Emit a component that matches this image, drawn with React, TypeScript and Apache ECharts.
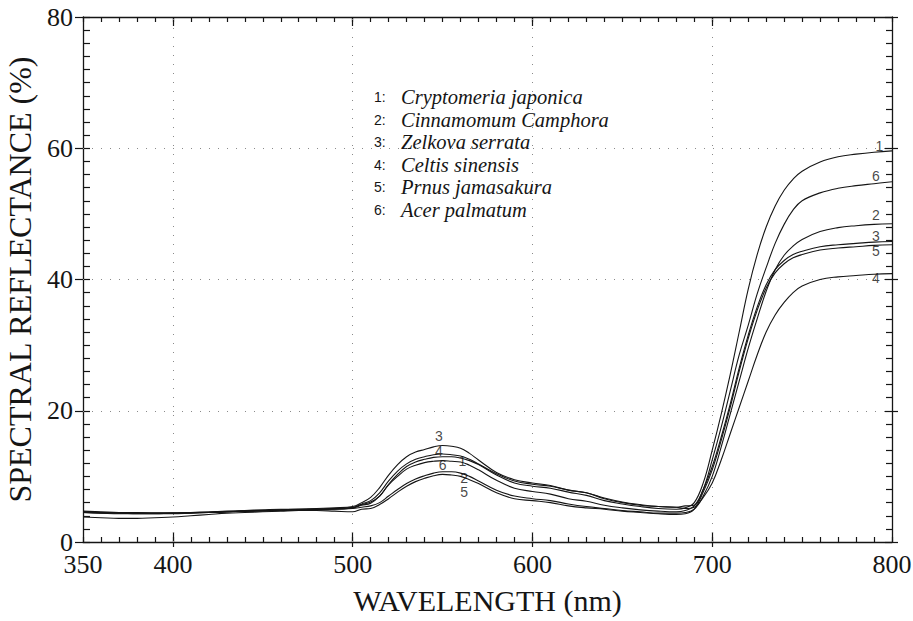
import React, { useEffect, useRef } from "react";
import * as echarts from "echarts";

// Wavelength samples (nm)
const wavelengths = [
  350, 360, 370, 380, 390, 400, 410, 420, 430, 440, 450, 460, 470, 480, 490, 500,
  505, 510, 515, 520, 525, 530, 535, 540, 545, 550, 555, 560, 565, 570,
  580, 590, 600, 610, 620, 630, 640, 650, 660, 670, 680,
  685, 690, 695, 700, 705, 710, 715, 720, 725, 730, 735, 740, 745, 750,
  760, 770, 780, 790, 800,
];

// Spectral reflectance (%) for each species
const cryptomeria = [
  4.6, 4.5, 4.4, 4.4, 4.4, 4.4, 4.5, 4.5, 4.6, 4.7, 4.8, 4.9, 5.0, 5.0, 5.1, 5.3,
  5.7, 6.1, 7.0, 8.8, 10.3, 11.5, 12.2, 12.6, 12.9, 13.0, 13.0, 12.8, 12.4, 11.8,
  10.2, 9.0, 8.5, 8.2, 7.6, 7.1, 6.3, 5.8, 5.4, 5.1, 5.0,
  5.2, 6.0, 9.0, 14.0, 19.5, 25.5, 32.0, 38.5, 43.8, 48.0, 51.2, 53.6, 55.3, 56.5,
  57.9, 58.7, 59.1, 59.4, 59.6,
];
const cinnamomum = [
  4.5, 4.4, 4.3, 4.3, 4.3, 4.4, 4.4, 4.5, 4.6, 4.7, 4.8, 4.8, 4.9, 5.0, 5.0, 5.1,
  5.3, 5.5, 6.0, 7.0, 8.0, 8.9, 9.6, 10.1, 10.5, 10.7, 10.7, 10.5, 10.0, 9.3,
  7.9, 7.0, 6.6, 6.3, 5.8, 5.4, 5.1, 4.8, 4.6, 4.4, 4.4,
  4.5, 5.0, 7.0, 10.0, 14.5, 19.5, 24.5, 29.5, 34.0, 38.2, 41.5, 43.7, 45.1, 46.1,
  47.3, 47.9, 48.2, 48.4, 48.5,
];
const zelkova = [
  4.7, 4.6, 4.5, 4.5, 4.4, 4.4, 4.5, 4.6, 4.7, 4.8, 4.9, 5.0, 5.0, 5.1, 5.2, 5.4,
  6.0, 6.8, 8.3, 10.2, 11.8, 13.0, 13.7, 14.1, 14.5, 14.7, 14.6, 14.3, 13.5, 12.5,
  10.6, 9.5, 9.0, 8.6, 7.9, 7.5, 6.7, 6.1, 5.7, 5.4, 5.3,
  5.5, 5.6, 8.0, 11.5, 16.0, 21.0, 26.5, 31.5, 35.8, 39.2, 41.5, 42.9, 43.8, 44.3,
  45.0, 45.3, 45.5, 45.7, 45.8,
];
const celtis = [
  4.6, 4.5, 4.5, 4.4, 4.4, 4.4, 4.5, 4.5, 4.6, 4.7, 4.8, 4.9, 5.0, 5.0, 5.1, 5.2,
  5.8, 6.3, 7.5, 9.3, 10.8, 11.9, 12.6, 13.0, 13.3, 13.4, 13.3, 13.1, 12.6, 11.9,
  10.4, 9.3, 8.8, 8.5, 7.9, 7.5, 6.6, 6.0, 5.6, 5.4, 5.3,
  5.1, 5.3, 6.8, 9.0, 12.5, 16.5, 20.5, 24.5, 28.5, 32.0, 34.6, 36.5, 38.0, 39.0,
  40.0, 40.4, 40.6, 40.8, 40.9,
];
const prunus = [
  3.8, 3.7, 3.6, 3.6, 3.7, 3.8, 4.0, 4.2, 4.4, 4.5, 4.6, 4.7, 4.8, 4.8, 4.7, 4.6,
  5.0, 5.1, 5.7, 6.6, 7.6, 8.5, 9.2, 9.7, 10.1, 10.3, 10.2, 10.0, 9.5, 8.9,
  7.5, 6.6, 6.3, 6.0, 5.5, 5.2, 5.0, 4.7, 4.5, 4.3, 4.2,
  4.3, 5.0, 7.6, 11.0, 15.5, 20.5, 26.0, 31.0, 35.3, 38.7, 41.0, 42.4, 43.3, 43.8,
  44.5, 44.8, 45.0, 45.2, 45.3,
];
const acer = [
  4.5, 4.4, 4.4, 4.3, 4.3, 4.3, 4.4, 4.5, 4.6, 4.7, 4.7, 4.8, 4.9, 5.0, 5.0, 5.2,
  5.6, 5.9, 7.0, 8.7, 10.0, 11.1, 11.7, 12.1, 12.3, 12.4, 12.3, 12.2, 11.7, 11.0,
  9.4, 8.2, 7.7, 7.3, 6.6, 6.2, 5.6, 5.2, 4.9, 4.7, 4.6,
  4.8, 5.5, 8.0, 12.5, 17.5, 23.0, 28.5, 33.0, 37.8, 41.8, 45.5, 48.4, 50.6, 52.0,
  53.2, 53.9, 54.3, 54.6, 54.9,
];

const speciesIds = ["1", "2", "3", "4", "5", "6"];
const speciesNames = [
  "Cryptomeria japonica",
  "Cinnamomum Camphora",
  "Zelkova serrata",
  "Celtis sinensis",
  "Prnus jamasakura",
  "Acer palmatum",
];
const speciesValues = [cryptomeria, cinnamomum, zelkova, celtis, prunus, acer];

// Curve number labels placed in data coordinates
const curveLabelIds = ["1", "6", "2", "3", "5", "4", "3", "4", "6", "1", "2", "5"];
const curveLabelX = [793, 791, 791, 791, 791, 791, 548, 548, 550, 561, 562, 562];
const curveLabelY = [60.3, 55.7, 49.8, 46.6, 44.3, 40.3, 16.2, 13.9, 11.7, 12.4, 9.8, 7.6];

const xTickLabels = [350, 400, 500, 600, 700, 800];
const xGridValues = [400, 500, 600, 700];
const yGridValues = [20, 40, 60];
const xMajorTicks = [400, 500, 600, 700];

const SERIF = "'Liberation Serif', 'DejaVu Serif', serif";
const SANS = "'Liberation Sans', 'DejaVu Sans', sans-serif";
const INK = "#151515";

export default function App() {
  const ref = useRef<HTMLDivElement>(null);

  useEffect(() => {
    if (!ref.current) return;
    const chart = echarts.init(ref.current, undefined, { renderer: "svg" });

    const baseX = { type: "value", min: 350, max: 800, gridIndex: 0 };
    const baseY = { type: "value", min: 0, max: 80, gridIndex: 0 };
    const tickStyle = { color: INK, width: 1.2 };
    const lineOn = { show: true, onZero: false, lineStyle: { color: INK, width: 1.3 } };
    const lineOff = { show: false, onZero: false };

    const xAxes: any[] = [
      {
        ...baseX,
        position: "bottom",
        interval: 10,
        axisLine: lineOn,
        axisTick: { show: true, interval: 0, inside: true, length: 5, lineStyle: tickStyle },
        axisLabel: {
          show: true,
          interval: 0,
          showMinLabel: true,
          showMaxLabel: true,
          margin: 9,
          color: INK,
          fontFamily: SERIF,
          fontSize: 26,
          formatter: (v: number) => (xTickLabels.includes(v) ? String(v) : ""),
        },
        splitLine: { show: false },
        name: "WAVELENGTH (nm)",
        nameLocation: "middle",
        nameGap: 43,
        nameTextStyle: { color: INK, fontFamily: SERIF, fontSize: 30 },
      },
      {
        ...baseX,
        position: "bottom",
        interval: 10,
        axisLine: lineOff,
        axisTick: { show: true, interval: 0, inside: true, length: 10, customValues: xMajorTicks, lineStyle: tickStyle },
        axisLabel: { show: false },
        splitLine: { show: false },
      },
      {
        ...baseX,
        position: "bottom",
        interval: 10,
        axisLine: lineOff,
        axisTick: { show: true, interval: 0, inside: false, length: 5, customValues: xMajorTicks, lineStyle: tickStyle },
        axisLabel: { show: false },
        splitLine: { show: false },
      },
      {
        ...baseX,
        position: "top",
        interval: 10,
        axisLine: lineOn,
        axisTick: { show: true, interval: 0, inside: true, length: 5, lineStyle: tickStyle },
        axisLabel: { show: false },
        splitLine: { show: false },
      },
      {
        ...baseX,
        position: "top",
        interval: 10,
        axisLine: lineOff,
        axisTick: { show: true, interval: 0, inside: true, length: 9, customValues: xMajorTicks, lineStyle: tickStyle },
        axisLabel: { show: false },
        splitLine: { show: false },
      },
    ];

    const yAxes: any[] = [
      {
        ...baseY,
        position: "left",
        interval: 20,
        axisLine: lineOn,
        axisTick: { show: true, interval: 0, inside: true, length: 7, lineStyle: tickStyle },
        minorTick: { show: true, splitNumber: 10, length: 7, lineStyle: tickStyle },
        axisLabel: {
          show: true,
          interval: 0,
          margin: 10,
          color: INK,
          fontFamily: SERIF,
          fontSize: 26,
        },
        splitLine: { show: false },
        minorSplitLine: { show: false },
        name: "SPECTRAL REFLECTANCE (%)",
        nameLocation: "middle",
        nameRotate: 90,
        nameGap: 42,
        nameTextStyle: { color: INK, fontFamily: SERIF, fontSize: 32 },
      },
      {
        ...baseY,
        position: "left",
        interval: 20,
        axisLine: lineOff,
        axisTick: { show: true, interval: 0, inside: false, length: 8, lineStyle: tickStyle },
        axisLabel: { show: false },
        splitLine: { show: false },
      },
      {
        ...baseY,
        position: "right",
        interval: 20,
        axisLine: lineOn,
        axisTick: { show: true, interval: 0, inside: true, length: 7, lineStyle: tickStyle },
        minorTick: { show: true, splitNumber: 10, length: 6, lineStyle: tickStyle },
        axisLabel: { show: false },
        splitLine: { show: false },
        minorSplitLine: { show: false },
      },
      {
        ...baseY,
        position: "right",
        interval: 20,
        axisLine: lineOff,
        axisTick: { show: true, interval: 0, inside: false, length: 6, lineStyle: tickStyle },
        axisLabel: { show: false },
        splitLine: { show: false },
      },
    ];

    const lineSeries: any[] = speciesValues.map((vals, k) => ({
      type: "line",
      name: speciesIds[k] + ": " + speciesNames[k],
      xAxisIndex: 0,
      yAxisIndex: 0,
      data: wavelengths.map((w, i) => [w, vals[i]]),
      showSymbol: false,
      smooth: 0.4,
      lineStyle: { color: INK, width: 1.1 },
      z: 3,
    }));

    lineSeries[0].markLine = {
      silent: true,
      symbol: ["none", "none"],
      label: { show: false },
      lineStyle: { type: [1, 8], color: "#8a8a8a", width: 1 },
      data: [
        ...xGridValues.map((v) => ({ xAxis: v })),
        ...yGridValues.map((v) => ({ yAxis: v })),
      ],
      z: 1,
    };

    const labelSeries = {
      type: "scatter",
      name: "curve labels",
      xAxisIndex: 0,
      yAxisIndex: 0,
      silent: true,
      symbolSize: 1,
      itemStyle: { color: "rgba(0,0,0,0)" },
      data: curveLabelIds.map((id, i) => ({ name: id, value: [curveLabelX[i], curveLabelY[i]] })),
      label: {
        show: true,
        position: "inside",
        formatter: (p: any) => p.name,
        color: INK,
        fontFamily: SANS,
        fontSize: 14,
      },
      labelLayout: { hideOverlap: false },
      z: 5,
    };

    const legendGraphics: any[] = [];
    speciesNames.forEach((nm, i) => {
      const y = 97 + i * 22.6;
      legendGraphics.push({
        type: "text",
        x: 374,
        y,
        style: {
          text: speciesIds[i] + ":",
          fill: INK,
          font: "14px " + SANS,
          verticalAlign: "middle",
        },
      });
      legendGraphics.push({
        type: "text",
        x: 401,
        y,
        style: {
          text: nm,
          fill: INK,
          font: "italic 20.5px " + SERIF,
          verticalAlign: "middle",
        },
      });
    });

    chart.setOption({
      animation: false,
      backgroundColor: "#ffffff",
      grid: { left: 83, right: 21, top: 17, bottom: 79, containLabel: false, outerBoundsMode: "none" },
      xAxis: xAxes,
      yAxis: yAxes,
      series: [...lineSeries, labelSeries],
      graphic: legendGraphics,
    });

    return () => chart.dispose();
  }, []);

  return (
    <div
      ref={ref}
      style={{ position: "fixed", left: 0, top: 0, width: 913, height: 621, background: "#fff" }}
    />
  );
}
